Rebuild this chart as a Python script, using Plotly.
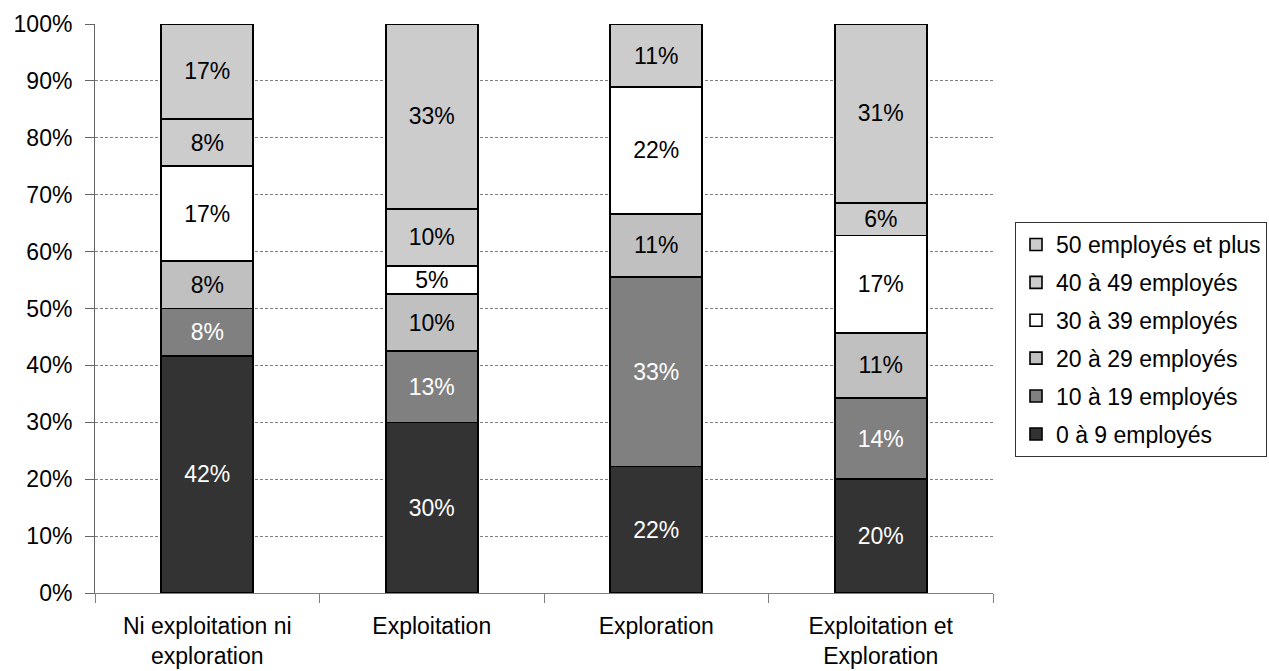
import plotly.graph_objects as go

# Groupes d'entreprises (axe des x)
categories = [
    "Ni exploitation ni<br>exploration",
    "Exploitation",
    "Exploration",
    "Exploitation et<br>Exploration",
]

# Répartition (%) par taille d'entreprise, de bas en haut de la pile
series_names = [
    "0 à 9 employés",
    "10 à 19 employés",
    "20 à 29 employés",
    "30 à 39 employés",
    "40 à 49 employés",
    "50 employés et plus",
]
emp_0_9 = [41.67, 30.0, 22.22, 20.0]
emp_10_19 = [8.33, 12.5, 33.33, 14.29]
emp_20_29 = [8.33, 10.0, 11.11, 11.43]
emp_30_39 = [16.67, 5.0, 22.22, 17.14]
emp_40_49 = [8.33, 10.0, None, 5.71]
emp_50_plus = [16.67, 32.5, 11.11, 31.43]

y_tick_values = [0, 10, 20, 30, 40, 50, 60, 70, 80, 90, 100]
y_tick_labels = ["0%", "10%", "20%", "30%", "40%", "50%", "60%", "70%", "80%", "90%", "100%"]

series_values = [emp_0_9, emp_10_19, emp_20_29, emp_30_39, emp_40_49, emp_50_plus]
fill_colors = ["#333333", "#808080", "#C0C0C0", "#FFFFFF", "#CCCCCC", "#CCCCCC"]
text_colors = ["#FFFFFF", "#FFFFFF", "#000000", "#000000", "#000000", "#000000"]

FONT = "Liberation Sans, Arial, sans-serif"
FS = 23

fig = go.Figure()
n = len(series_names)
for i, (name, vals, fc, tc) in enumerate(zip(series_names, series_values, fill_colors, text_colors)):
    fig.add_trace(go.Bar(
        name=name,
        x=categories,
        y=vals,
        legendgroup=f"g{i}",
        legendrank=n - i,
        marker=dict(color=fc, line=dict(color="#000000", width=1.6)),
        texttemplate="%{y:.0f}%",
        textposition="inside",
        insidetextanchor="middle",
        constraintext="none",
        insidetextfont=dict(family=FONT, size=FS, color=tc),
        hoverinfo="skip",
    ))

fig.update_layout(
    barmode="stack",
    bargap=0.59,
    width=1269,
    height=671,
    margin=dict(l=95, r=276, t=24, b=78, autoexpand=False),
    paper_bgcolor="white",
    plot_bgcolor="white",
    font=dict(family=FONT, size=FS, color="#000000"),
    legend=dict(
        x=1.0245, y=0.652, xanchor="left", yanchor="top",
        traceorder="grouped",
        tracegroupgap=5,
        bordercolor="#333333", borderwidth=1,
        font=dict(family=FONT, size=FS, color="#000000"),
        itemwidth=30,
    ),
    showlegend=True,
)

fig.update_xaxes(
    type="category",
    automargin=False,
    showline=True, linecolor="#808080", linewidth=1,
    ticks="outside", ticklen=9, tickcolor="#808080", tickson="boundaries",
    showgrid=False,
    tickfont=dict(family=FONT, size=FS),
    ticklabelstandoff=12,
)
fig.update_yaxes(
    range=[0, 100],
    automargin=False,
    tickmode="array",
    tickvals=y_tick_values,
    ticktext=y_tick_labels,
    showline=True, linecolor="#666666", linewidth=1,
    ticks="outside", ticklen=9, tickcolor="#666666",
    showgrid=True, gridcolor="#808080", gridwidth=1, griddash="3px,2px",
    zeroline=False,
    tickfont=dict(family=FONT, size=FS),
    ticklabelstandoff=8,
)

fig.write_html("out.html")
